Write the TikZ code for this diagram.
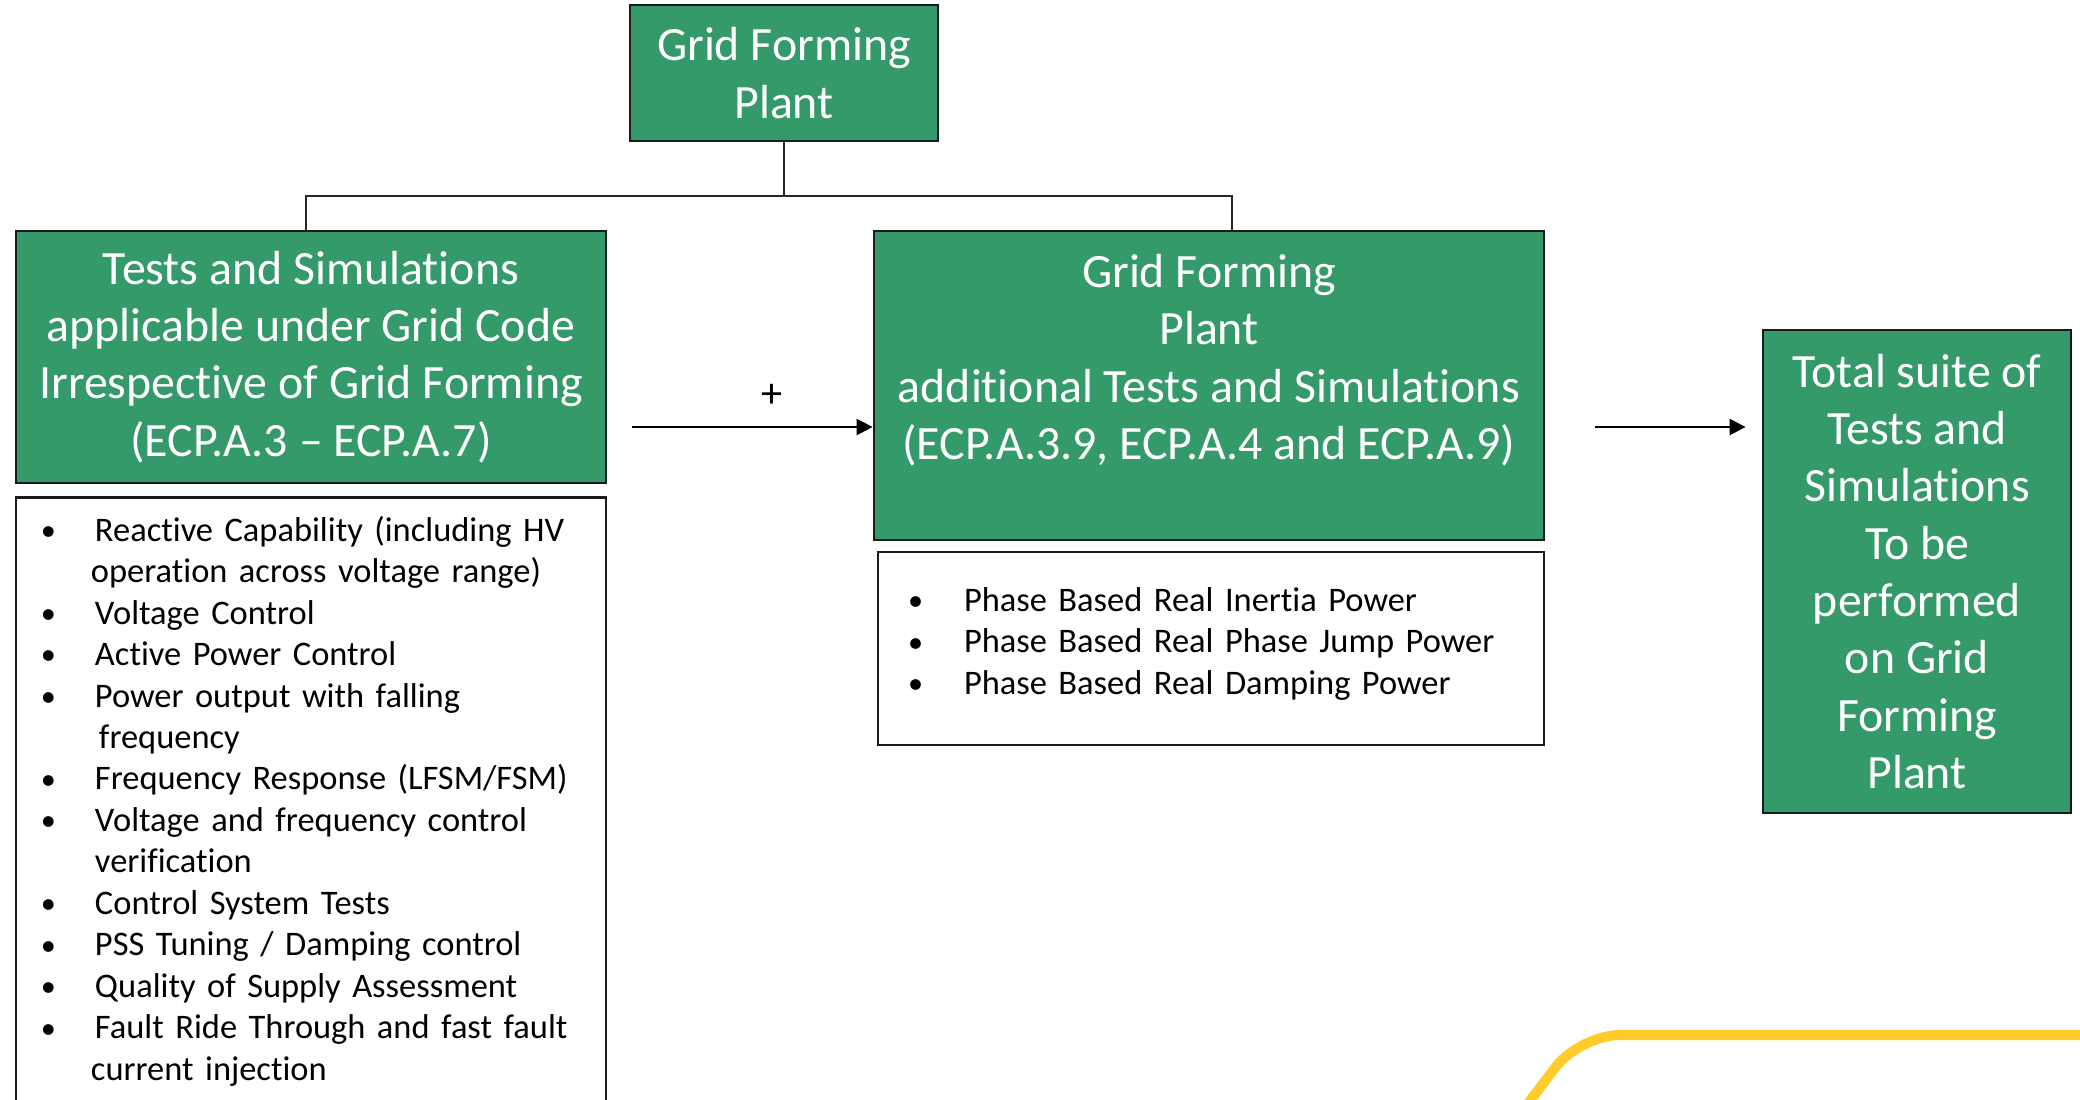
\documentclass[tikz,border=0pt]{standalone}
\usepackage{fontspec}
\setmainfont{Carlito}[Ligatures={NoCommon}]
\usepackage{xcolor}
\definecolor{plantgreen}{HTML}{359A69}
\definecolor{boxedge}{HTML}{1A1A1A}
\definecolor{gold}{HTML}{FFCC29}
\usepackage{tikz}
\usetikzlibrary{arrows.meta,positioning}
\newcommand{\blt}{\raisebox{0.2pt}{\fontsize{8.6}{8.6}\selectfont •}}

\begin{document}
\begin{tikzpicture}[
  gbox/.style={rectangle,draw=boxedge,line width=0.8pt,fill=plantgreen,text=white,
    align=center,inner sep=2pt,font=\fontsize{13.6}{16.3}\selectfont},
  lbox/.style={rectangle,draw=boxedge,line width=0.8pt,fill=white,text=black,
    align=left,font=\fontsize{9.8}{11.8}\selectfont},
  tree/.style={line width=0.5pt,black!85},
  flow/.style={-{Triangle[length=1.6mm,width=1.6mm]},line width=0.7pt,black}]
  \path[use as bounding box] (0,0) rectangle (20.8,-10.99);
  \clip (0,0) rectangle (20.8,-10.99);
  % top of the tree
  \node[gbox,minimum width=3.08cm,minimum height=1.36cm] (gfp) at (7.84,-0.73) {Grid Forming\\Plant};
  % grid code tests
  \node[gbox,minimum width=5.9cm,minimum height=2.52cm] (gc) at (3.11,-3.57)
    {Tests and Simulations\\applicable under Grid Code\\Irrespective of Grid Forming\\(ECP.A.3 – ECP.A.7)};
  \node[lbox,anchor=north,text width=5.4cm,inner xsep=0.25cm,minimum height=6.1cm] (gclist) at (3.11,-4.96) {%
    \begin{tabular}{@{}p{0.54cm}@{}l@{}}
    \blt & Reactive Capability (including HV\\
         & \hspace{-0.04cm}operation across voltage range)\\
    \blt & Voltage Control\\
    \blt & Active Power Control\\
    \blt & Power output with falling\\
         & \hspace{0.04cm}frequency\\
    \blt & Frequency Response (LFSM/FSM)\\
    \blt & Voltage and frequency control\\
         & verification\\
    \blt & Control System Tests\\
    \blt & PSS Tuning / Damping control\\
    \blt & Quality of Supply Assessment\\
    \blt & Fault Ride Through and fast fault\\
         & \hspace{-0.04cm}current injection
    \end{tabular}};
  % grid forming extras
  \node[gbox,minimum width=6.7cm,minimum height=3.09cm] (add) at (12.09,-3.855)
    {Grid Forming\\Plant\\additional Tests and Simulations\\(ECP.A.3.9, ECP.A.4 and ECP.A.9)\\~};
  \node[lbox,text width=6.06cm,inner xsep=0.3cm,minimum height=1.93cm] (addlist) at (12.11,-6.485) {%
    \raisebox{0.04cm}[\height][\depth]{\begin{tabular}{@{}p{0.56cm}@{}l@{}}
    \blt & Phase Based Real Inertia Power\\
    \blt & Phase Based Real Phase Jump Power\\
    \blt & Phase Based Real Damping Power
    \end{tabular}}};
  % result
  \node[gbox,minimum width=3.08cm,minimum height=4.83cm] (total) at (19.17,-5.715)
    {Total suite of\\Tests and\\Simulations\\To be\\performed\\on Grid\\Forming\\Plant};
  % tree lines
  \coordinate (split) at (gfp.south|-0,-1.96);
  \draw[tree] (gfp.south) -- (split);
  \draw[tree] ([xshift=-0.05cm]gc.north) |- (split) -| ([xshift=0.23cm]add.north);
  % flow arrows
  \def\y{-4.27}
  \draw[flow,shorten <=0.25cm] (gc.east|-0,\y) -- node[pos=0.62,above=2pt,font=\fontsize{12}{14}\selectfont] (plus) {+} (add.west|-0,\y);
  \draw[flow,shorten <=0.5cm,shorten >=0.16cm] (add.east|-0,\y) -- (total.west|-0,\y);
  % corner swoosh
  \draw[gold,line width=1mm,rounded corners=4mm] (15.07,-11.31) -- (15.8,-10.35) -- (21.0,-10.35);
\end{tikzpicture}
\end{document}
